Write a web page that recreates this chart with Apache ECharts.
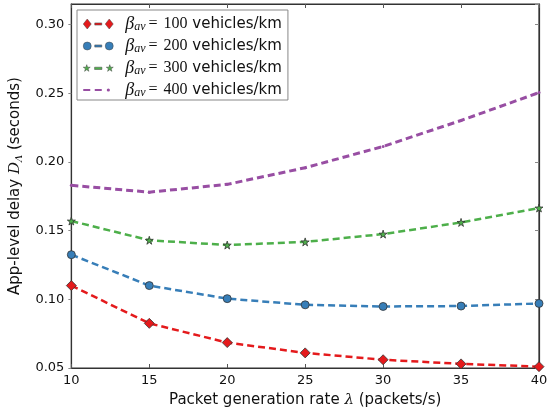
<!DOCTYPE html>
<html>
<head>
<meta charset="utf-8">
<script src="https://cdn.jsdelivr.net/npm/echarts@6/dist/echarts.min.js"></script>
<style>
  html, body { margin: 0; padding: 0; background: #fff; }
  #chart { width: 555px; height: 414px; }
</style>
</head>
<body>
<div id="chart"></div>
<script>
// Packet generation rate λ (packets/s)
const rates = [10, 15, 20, 25, 30, 35, 40];
// Vehicle densities β_av (vehicles/km)
const densities = [100, 200, 300, 400];
// App-level delay D_Λ (seconds) per density
const delay100 = [0.110, 0.0825, 0.0685, 0.061, 0.056, 0.053, 0.051];
const delay200 = [0.1325, 0.110, 0.1005, 0.096, 0.0948, 0.0951, 0.097];
const delay300 = [0.157, 0.143, 0.1395, 0.1418, 0.1475, 0.156, 0.1665];
const delay400 = [0.183, 0.178, 0.1837, 0.1958, 0.2113, 0.2302, 0.2505];
// Y tick labels
const yTicks = [0.05, 0.10, 0.15, 0.20, 0.25, 0.30];

const STAR = 'path://M50,0 L61,35 L98,35 L68,57 L79,91 L50,70 L21,91 L32,57 L2,35 L39,35 Z';

// Legend icons: marker, dash, marker (as in a two-point legend handle)
const DASH = 'M11.5,3.9 L18.5,3.9 L18.5,6.1 L11.5,6.1 Z';
const ICON_DIAMOND = 'path://M0,5 L4,0 L8,5 L4,10 Z ' + DASH + ' M22,5 L26,0 L30,5 L26,10 Z';
const ICON_CIRCLE = 'path://M0,5 A4,4 0 1 1 8,5 A4,4 0 1 1 0,5 Z ' + DASH +
  ' M22,5 A4,4 0 1 1 30,5 A4,4 0 1 1 22,5 Z M0,0 L0,0 M30,10 L30,10';
const ICON_STAR = 'path://M4,1.5 L4.79,3.92 L7.33,3.92 L5.27,5.41 L6.06,7.83 L4,6.34 L1.94,7.83 L2.73,5.41 L0.67,3.92 L3.21,3.92 Z ' +
  DASH + ' M26,1.5 L26.79,3.92 L29.33,3.92 L27.27,5.41 L28.06,7.83 L26,6.34 L23.94,7.83 L24.73,5.41 L22.67,3.92 L25.21,3.92 Z';
const ICON_DOT = 'path://M0,3.9 L7,3.9 L7,6.1 L0,6.1 Z M11.5,3.9 L18.5,3.9 L18.5,6.1 L11.5,6.1 Z ' +
  'M23.5,5 A1.6,1.6 0 1 1 26.7,5 A1.6,1.6 0 1 1 23.5,5 Z M30,5 L30,5';

const seriesDefs = [
  { values: delay100, color: '#e41a1c', symbol: 'diamond', size: 10, icon: ICON_DIAMOND },
  { values: delay200, color: '#377eb8', symbol: 'circle', size: 8, icon: ICON_CIRCLE },
  { values: delay300, color: '#4daf4a', symbol: STAR, size: 8, icon: ICON_STAR },
  { values: delay400, color: '#984ea3', symbol: 'circle', size: 3, icon: ICON_DOT }
];

const chart = echarts.init(document.getElementById('chart'), null, { renderer: 'canvas' });

const series = seriesDefs.map((d, i) => ({
  name: 'b' + densities[i],
  type: 'line',
  data: rates.map((x, k) => [x, d.values[k]]),
  symbol: d.symbol,
  symbolSize: d.size,
  showSymbol: true,
  clip: true,
  z: 3 + i,
  lineStyle: { color: d.color, width: i === 3 ? 3 : 2.5, type: [7, 4] },
  itemStyle: { color: d.color, borderColor: i === 3 ? d.color : '#333', borderWidth: i === 3 ? 0 : 0.8 },
  animation: false
}));

const tickFmt = v => {
  const r = Math.round(v * 100) / 100;
  return yTicks.some(t => Math.abs(t - v) < 1e-6) ? r.toFixed(2) : '';
};

chart.setOption({
  backgroundColor: '#fff',
  animation: false,
  grid: {
    left: 70, right: 16, top: 4, bottom: 46,
    show: true, borderColor: '#333', borderWidth: 1.2, backgroundColor: 'transparent'
  },
  legend: {
    orient: 'vertical',
    left: 77, top: 10,
    padding: [5, 6, 1, 6],
    itemGap: 4,
    itemWidth: 30, itemHeight: 10,
    backgroundColor: '#fff',
    borderColor: '#888', borderWidth: 1,
    data: densities.map((d, i) => ({
      name: 'b' + d,
      icon: seriesDefs[i].icon,
      itemStyle: {
        color: seriesDefs[i].color,
        borderColor: i === 3 ? seriesDefs[i].color : '#444',
        borderWidth: i === 3 ? 0 : 0.5
      }
    })),
    formatter: name => {
      const v = name.slice(1);
      return '{g|β}{s|av}{q|=}{n|' + v + '}{t| vehicles/km}';
    },
    textStyle: {
      color: '#111',
      fontSize: 15,
      lineHeight: 18,
      rich: {
        g: { fontFamily: 'Liberation Serif', fontStyle: 'italic', fontSize: 18, color: '#111', padding: [0, 0, 0, 7] },
        s: { fontFamily: 'Liberation Serif', fontStyle: 'italic', fontSize: 12, color: '#111', verticalAlign: 'bottom', lineHeight: 18, padding: [0, 3, 0, 0] },
        q: { fontFamily: 'Liberation Serif', fontSize: 16, color: '#111', padding: [0, 6, 0, 0] },
        n: { fontFamily: 'Liberation Serif', fontSize: 16, color: '#111' },
        t: { fontFamily: 'DejaVu Sans', fontSize: 15, color: '#111' }
      }
    }
  },
  xAxis: [{
    type: 'value',
    min: 10, max: 40, interval: 5,
    position: 'bottom',
    name: 'Packet generation rate {i|λ} (packets/s)',
    nameLocation: 'middle',
    nameGap: 25,
    nameTextStyle: {
      fontFamily: 'DejaVu Sans', fontSize: 15, color: '#111',
      rich: { i: { fontFamily: 'DejaVu Serif', fontStyle: 'italic', fontSize: 15, color: '#111' } }
    },
    axisLine: { show: true, lineStyle: { color: '#333', width: 1.2 } },
    axisTick: { show: true, inside: true, length: 4, lineStyle: { color: '#555' } },
    axisLabel: { fontFamily: 'DejaVu Sans', fontSize: 13, color: '#111', margin: 6 },
    splitLine: { show: false }
  }, {
    type: 'value',
    min: 10, max: 40, interval: 5,
    position: 'top',
    axisLine: { show: true, lineStyle: { color: '#333', width: 1.2 } },
    axisTick: { show: true, inside: true, length: 4, lineStyle: { color: '#555' } },
    axisLabel: { show: false },
    splitLine: { show: false }
  }],
  yAxis: [{
    type: 'value',
    min: 0.05, max: 0.315, interval: 0.05,
    position: 'left',
    name: 'App-level delay {i|D}{s|Λ} (seconds)',
    nameLocation: 'middle',
    nameRotate: 90,
    nameGap: 38,
    nameTextStyle: {
      fontFamily: 'DejaVu Sans', fontSize: 15, color: '#111',
      rich: {
        i: { fontFamily: 'DejaVu Serif', fontStyle: 'italic', fontSize: 15, color: '#111' },
        s: { fontFamily: 'DejaVu Serif', fontStyle: 'italic', fontSize: 10, color: '#111', verticalAlign: 'bottom', lineHeight: 18 }
      }
    },
    axisLine: { show: true, lineStyle: { color: '#333', width: 1.2 } },
    axisTick: { show: true, inside: false, length: 3, lineStyle: { color: '#888' } },
    axisLabel: { fontFamily: 'DejaVu Sans', fontSize: 13, color: '#111', margin: 7, formatter: tickFmt, showMaxLabel: false },
    splitLine: { show: false }
  }, {
    type: 'value',
    min: 0.05, max: 0.315, interval: 0.05,
    position: 'right',
    axisLine: { show: true, lineStyle: { color: '#333', width: 1.2 } },
    axisTick: { show: true, inside: true, length: 4, lineStyle: { color: '#888' } },
    axisLabel: { show: false },
    splitLine: { show: false }
  }],
  series: series
});
</script>
</body>
</html>
